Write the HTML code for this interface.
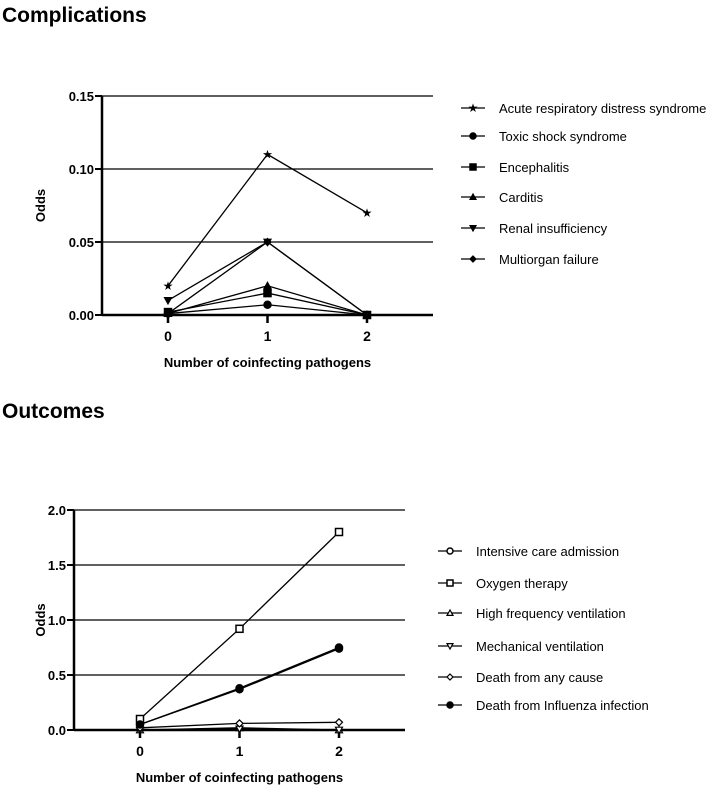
<!DOCTYPE html>
<html><head><meta charset="utf-8"><style>
body{margin:0;background:#fff;width:709px;height:786px;overflow:hidden;font-family:"Liberation Sans",Arial,sans-serif}
svg text{font-family:"Liberation Sans",Arial,sans-serif}
</style></head><body>
<svg id="s" width="709" height="786">
<text x="2" y="22" font-size="21" font-weight="bold">Complications</text>
<text x="2" y="418" font-size="21" font-weight="bold">Outcomes</text>
</svg>
<script>
const xCats=[0,1,2];
const topTicks=[0,0.05,0.1,0.15];
const topTickLabels=["0.00","0.05","0.10","0.15"];
const topNames=["Acute respiratory distress syndrome","Toxic shock syndrome","Encephalitis","Carditis","Renal insufficiency","Multiorgan failure"];
const ards=[0.02,0.11,0.07];
const toxic=[0.001,0.007,0];
const enceph=[0.002,0.015,0];
const carditis=[0.001,0.02,0];
const renal=[0.01,0.05,0];
const multi=[0.001,0.05,0];
const botTicks=[0,0.5,1,1.5,2];
const botTickLabels=["0.0","0.5","1.0","1.5","2.0"];
const botNames=["Intensive care admission","Oxygen therapy","High frequency ventilation","Mechanical ventilation","Death from any cause","Death from Influenza infection"];
const icu=[0.05,0.38,0.75];
const oxygen=[0.1,0.92,1.8];
const hfv=[0,0.02,0];
const mv=[0,0.01,0];
const deathAny=[0.02,0.06,0.07];
const deathFlu=[0.05,0.37,0.74];

const NS="http://www.w3.org/2000/svg",svg=document.getElementById('s');
function el(t,a,p){const e=document.createElementNS(NS,t);for(const k in a)e.setAttribute(k,a[k]);(p||svg).appendChild(e);return e;}
function marker(g,type,x,y,s){
  const f=type.startsWith('o')?'#fff':'#000';const k=type.replace(/^o/,'');let e;
  if(k==='circle')e=el('circle',{cx:x,cy:y,r:s,fill:f,stroke:'#000','stroke-width':1.5},g);
  else if(k==='square')e=el('rect',{x:x-s,y:y-s,width:2*s,height:2*s,fill:f,stroke:'#000','stroke-width':1.5},g);
  else if(k==='tri')e=el('polygon',{points:`${x},${y-s} ${x-s},${y+s*0.8} ${x+s},${y+s*0.8}`,fill:f,stroke:'#000','stroke-width':1.2},g);
  else if(k==='dtri')e=el('polygon',{points:`${x},${y+s} ${x-s},${y-s*0.8} ${x+s},${y-s*0.8}`,fill:f,stroke:'#000','stroke-width':1.2},g);
  else if(k==='diamond')e=el('polygon',{points:`${x},${y-s} ${x+s},${y} ${x},${y+s} ${x-s},${y}`,fill:f,stroke:'#000','stroke-width':1.2},g);
  else e=el('text',{x:x,y:y+4,'font-size':12,'text-anchor':'middle'},g),e.textContent='★';
  
  
}
function chart(cfg){
  const {ax,right,y0,ytop,vmax,x0,dx,ticks,labels,series,names,types,lx,ly,prefix,xt}=cfg;
  const ys=v=>y0-(v/vmax)*(y0-ytop), xs=i=>x0+i*dx;
  ticks.forEach((t,i)=>{
    const y=ys(t);
    const g=el('line',{x1:ax,x2:right,y1:y,y2:y,stroke:'#000','stroke-width':t===0?2.5:1.3});
    
    el('line',{x1:ax-7,x2:ax,y1:y,y2:y,stroke:'#000','stroke-width':2});
    const tx=el('text',{x:ax-8,y:y+5,'font-size':13,'font-weight':'bold','text-anchor':'end'});
    tx.textContent=labels[i];
  });
  const a=el('line',{x1:ax,x2:ax,y1:ytop,y2:y0+1,stroke:'#000','stroke-width':2.5});
  
  xCats.forEach((c,i)=>{
    el('line',{x1:xs(i),x2:xs(i),y1:y0,y2:y0+8,stroke:'#000','stroke-width':2.5});
    const t=el('text',{x:xs(i),y:y0+26,'font-size':14,'font-weight':'bold','text-anchor':'middle'});
    t.textContent=c;
  });
  const xtl=el('text',{x:xs(1),y:y0+xt,'font-size':13,'font-weight':'bold','text-anchor':'middle'});
  xtl.textContent='Number of coinfecting pathogens';
  
  const yt=el('text',{x:0,y:0,'font-size':13,'font-weight':'bold','text-anchor':'middle',transform:`translate(45,${(y0+ytop)/2}) rotate(-90)`});
  yt.textContent='Odds';
  series.forEach((d,si)=>{
    const g=el('g',{});
    el('polyline',{points:d.map((v,i)=>xs(i)+','+ys(v)).join(' '),fill:'none',stroke:'#000','stroke-width':1.3},g);
    d.forEach((v,i)=>marker(g,types[si],xs(i),ys(v),3.5));
    const lg=el('g',{});
    const y=ly[si];
    el('line',{x1:lx,x2:lx+24,y1:y,y2:y,stroke:'#000','stroke-width':1.3},lg);
    marker(lg,types[si],lx+12,y,3);
    const t=el('text',{x:lx+38,y:y+5,'font-size':13},lg);t.textContent=names[si];
  });
}
chart({prefix:'complications',ax:102,right:433,y0:315,ytop:96,vmax:0.15,x0:168,dx:99.5,ticks:topTicks,labels:topTickLabels,
 series:[ards,toxic,enceph,carditis,renal,multi],names:topNames,types:['star','circle','square','tri','dtri','diamond'],
 lx:461,ly:[108,136,167,197,228,259],xt:52});
chart({prefix:'outcomes',ax:74,right:405,y0:730,ytop:510,vmax:2,x0:140,dx:99.5,ticks:botTicks,labels:botTickLabels,
 series:[icu,oxygen,hfv,mv,deathAny,deathFlu],names:botNames,types:['ocircle','osquare','otri','odtri','odiamond','circle'],
 lx:438,ly:[551,583,613,646,677,705],xt:52});
</script>
</body></html>
